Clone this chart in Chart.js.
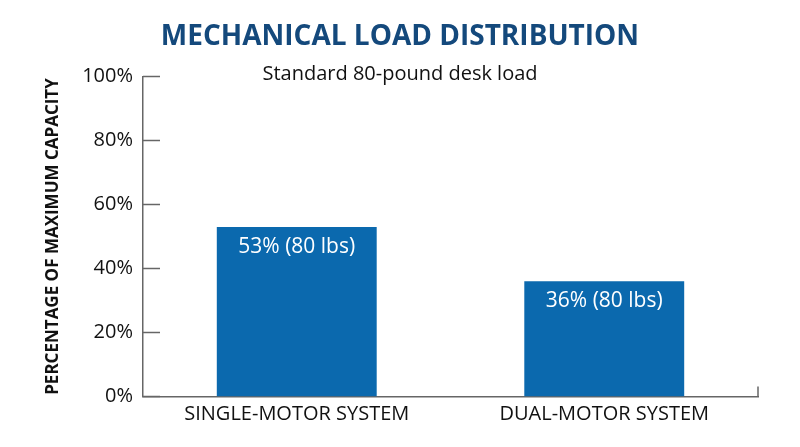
<!DOCTYPE html>
<html>
<head>
<meta charset="utf-8">
<script src="https://cdn.jsdelivr.net/npm/chart.js@4/dist/chart.umd.min.js"></script>
<style>
  html, body { margin: 0; padding: 0; background: #fff; }
  #wrap { width: 800px; height: 447px; }
</style>
</head>
<body>
<div id="wrap"><canvas id="loadChart"></canvas></div>
<script>
// Mechanical load distribution chart

const categories = ['SINGLE-MOTOR SYSTEM', 'DUAL-MOTOR SYSTEM'];
const capacityPct = [53, 36];
const loadLbs = [80, 80];
const yTicks = [0, 20, 40, 60, 80, 100];

const BAR_BLUE = '#0b69ae';
const AXIS_GREY = '#666666';
const FONT = '"Open Sans", "Noto Sans", sans-serif';

// title, subtitle, inward y ticks, end tick on the x axis and bar labels
const decorations = {
    id: 'decorations',
    afterDatasetsDraw(chart) {
        const { ctx, chartArea, scales } = chart;
        const y = scales.y;
        ctx.save();
        ctx.strokeStyle = AXIS_GREY;
        ctx.lineWidth = 1.5;
        yTicks.forEach(v => {
            const py = y.getPixelForValue(v);
            ctx.beginPath();
            ctx.moveTo(chartArea.left, py);
            ctx.lineTo(chartArea.left + 17, py);
            ctx.stroke();
        });
        ctx.beginPath();
        ctx.moveTo(chartArea.right, chartArea.bottom);
        ctx.lineTo(chartArea.right, chartArea.bottom - 10);
        ctx.stroke();

        ctx.textAlign = 'center';
        ctx.textBaseline = 'middle';
        ctx.fillStyle = '#14497c';
        ctx.font = '700 28px ' + FONT;
        ctx.fillText('MECHANICAL LOAD DISTRIBUTION', 400, 37);

        ctx.fillStyle = '#111';
        ctx.font = '20px ' + FONT;
        ctx.fillText('Standard 80-pound desk load', 400, 74);

        ctx.fillStyle = '#ffffff';
        ctx.font = '21px ' + FONT;
        chart.getDatasetMeta(0).data.forEach((bar, i) => {
            ctx.fillText(capacityPct[i] + '% (' + loadLbs[i] + ' lbs)', bar.x, bar.y + 20);
        });
        ctx.restore();
    }
};

new Chart(document.getElementById('loadChart'), {
    type: 'bar',
    data: {
        labels: categories,
        datasets: [{
            data: capacityPct,
            backgroundColor: BAR_BLUE,
            borderWidth: 0,
            barPercentage: 0.52,
            categoryPercentage: 1.0
        }]
    },
    options: {
        responsive: true,
        maintainAspectRatio: false,
        animation: false,
        layout: {
            padding: { top: 76.5, bottom: 0, left: 0, right: 42 }
        },
        plugins: {
            legend: { display: false },
            tooltip: { enabled: false },
            title: { display: false }
        },
        scales: {
            x: {
                grid: { display: false, drawTicks: false },
                border: { display: true, color: AXIS_GREY, width: 1.5 },
                ticks: {
                    color: '#111',
                    font: { family: FONT, size: 20 },
                    padding: 6
                },
                afterFit(scale) { scale.height = 50.5; }
            },
            y: {
                min: 0,
                max: 100,
                afterBuildTicks(scale) { scale.ticks = yTicks.map(v => ({ value: v })); },
                grid: { display: false, drawTicks: false },
                border: { display: true, color: AXIS_GREY, width: 1.5 },
                ticks: {
                    color: '#111',
                    font: { family: FONT, size: 20 },
                    padding: 10,
                    callback: v => v + '%'
                },
                title: {
                    display: true,
                    text: 'PERCENTAGE OF MAXIMUM CAPACITY',
                    color: '#111',
                    font: { family: FONT, size: 17, weight: '700' },
                    padding: { top: 43, bottom: 0 }
                },
                afterFit(scale) { scale.width = 143; }
            }
        }
    },
    plugins: [decorations]
});
</script>
</body>
</html>
